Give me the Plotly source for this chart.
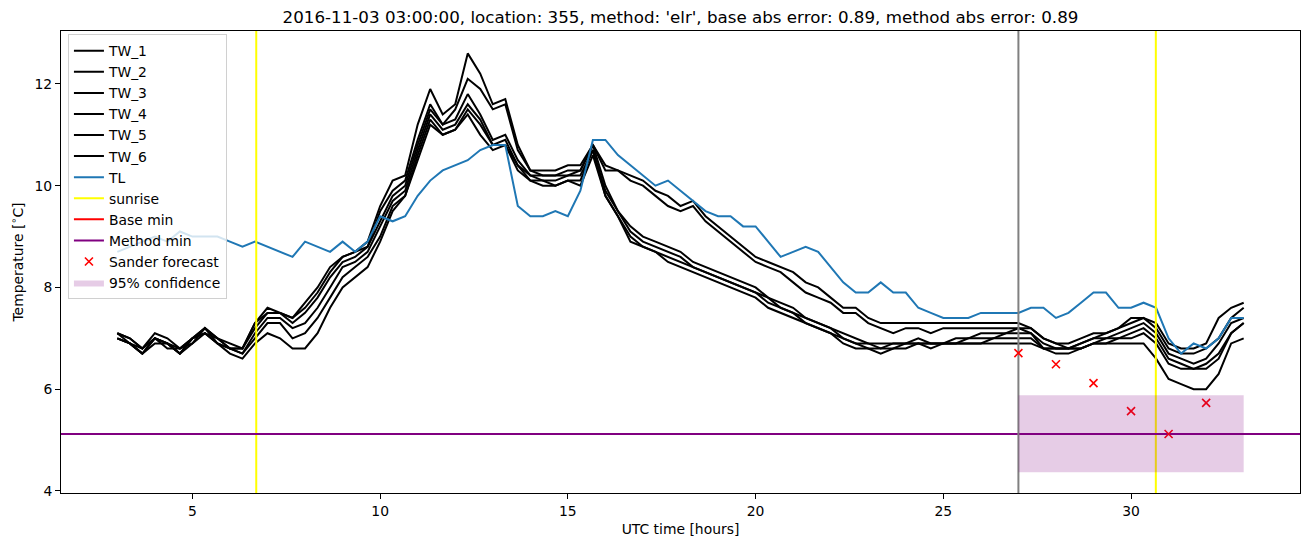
import numpy as np
import plotly.graph_objects as go

# ---- data (20-minute samples from 03:00 to 33:00 UTC hours) ----
hours = 3 + np.arange(91) / 3.0

tw_1 = [7.1, 7.0, 6.8, 7.0, 6.9, 6.8, 7.0, 7.2, 7.0, 6.8, 6.8, 7.3,
        7.6, 7.5, 7.4, 7.7, 8.0, 8.4, 8.6, 8.7, 8.9, 9.6, 10.1, 10.2,
        11.2, 11.9, 11.4, 11.6, 12.6, 12.2, 11.6, 11.7, 10.8, 10.3, 10.3, 10.3,
        10.4, 10.4, 10.8, 10.4, 10.3, 10.2, 10.1, 9.9, 9.8, 9.6, 9.7, 9.4,
        9.2, 9.0, 8.8, 8.6, 8.5, 8.4, 8.3, 8.1, 8.0, 7.8, 7.6, 7.6,
        7.4, 7.3, 7.3, 7.3, 7.3, 7.3, 7.3, 7.3, 7.3, 7.3, 7.3, 7.3,
        7.3, 7.2, 7.0, 6.9, 6.9, 7.0, 7.1, 7.1, 7.2, 7.4, 7.4, 7.3,
        6.9, 6.8, 6.8, 6.9, 7.4, 7.6, 7.7]
tw_2 = [7.1, 6.9, 6.8, 7.0, 6.8, 6.8, 7.0, 7.2, 7.0, 6.9, 6.8, 7.3,
        7.5, 7.5, 7.4, 7.6, 7.9, 8.3, 8.6, 8.7, 8.8, 9.5, 9.9, 10.1,
        10.9, 11.6, 11.2, 11.5, 12.1, 11.9, 11.5, 11.6, 10.7, 10.3, 10.2, 10.2,
        10.3, 10.3, 10.8, 10.3, 10.3, 10.1, 10.0, 9.8, 9.6, 9.5, 9.6, 9.3,
        9.1, 8.9, 8.7, 8.5, 8.4, 8.3, 8.1, 7.9, 7.8, 7.7, 7.5, 7.5,
        7.3, 7.2, 7.1, 7.2, 7.2, 7.1, 7.2, 7.2, 7.2, 7.2, 7.2, 7.2,
        7.2, 7.2, 7.0, 6.9, 6.8, 6.9, 7.0, 7.1, 7.2, 7.3, 7.4, 7.2,
        6.8, 6.7, 6.7, 6.8, 7.0, 7.4, 7.6]
tw_3 = [7.0, 6.9, 6.7, 7.0, 6.9, 6.7, 7.0, 7.1, 7.0, 6.8, 6.8, 7.2,
        7.5, 7.5, 7.3, 7.5, 7.8, 8.2, 8.5, 8.6, 8.8, 9.3, 9.8, 10.0,
        10.8, 11.5, 11.2, 11.3, 11.8, 11.4, 10.9, 11.0, 10.5, 10.2, 10.2, 10.2,
        10.2, 10.3, 10.8, 10.0, 9.5, 9.2, 9.0, 8.9, 8.8, 8.7, 8.5, 8.4,
        8.3, 8.2, 8.1, 8.0, 7.8, 7.7, 7.6, 7.4, 7.3, 7.2, 7.1, 7.0,
        6.9, 6.9, 6.9, 6.9, 7.0, 6.9, 6.9, 7.0, 7.0, 7.1, 7.1, 7.1,
        7.2, 7.1, 6.9, 6.8, 6.8, 6.9, 7.0, 7.0, 7.1, 7.2, 7.3, 7.1,
        6.7, 6.6, 6.5, 6.6, 6.9, 7.3, 7.4]
tw_4 = [7.1, 7.0, 6.8, 7.1, 7.0, 6.8, 6.9, 7.2, 6.9, 6.8, 6.7, 7.1,
        7.4, 7.4, 7.2, 7.3, 7.6, 8.0, 8.4, 8.5, 8.7, 9.2, 9.7, 9.9,
        10.7, 11.4, 11.1, 11.2, 11.6, 11.3, 10.8, 10.9, 10.4, 10.2, 10.1, 10.1,
        10.2, 10.2, 10.7, 9.9, 9.5, 9.1, 8.9, 8.8, 8.7, 8.6, 8.4, 8.3,
        8.2, 8.1, 8.0, 7.9, 7.8, 7.6, 7.5, 7.4, 7.3, 7.2, 7.0, 6.9,
        6.9, 6.8, 6.9, 6.9, 6.9, 6.9, 6.9, 6.9, 7.0, 7.0, 7.0, 7.1,
        7.1, 7.1, 6.8, 6.8, 6.8, 6.8, 6.9, 7.0, 7.0, 7.1, 7.2, 7.0,
        6.6, 6.5, 6.4, 6.5, 6.7, 7.1, 7.3]
tw_5 = [7.0, 6.9, 6.7, 7.0, 6.9, 6.7, 7.0, 7.1, 6.9, 6.8, 6.7, 7.0,
        7.3, 7.3, 7.0, 7.1, 7.4, 7.8, 8.2, 8.4, 8.6, 9.0, 9.6, 9.8,
        10.6, 11.3, 11.0, 11.1, 11.5, 11.2, 10.8, 10.8, 10.4, 10.1, 10.1, 10.0,
        10.1, 10.1, 10.7, 9.8, 9.4, 9.0, 8.8, 8.7, 8.6, 8.5, 8.4, 8.3,
        8.2, 8.1, 8.0, 7.9, 7.7, 7.6, 7.5, 7.3, 7.2, 7.1, 7.0, 6.9,
        6.8, 6.8, 6.8, 6.9, 6.9, 6.9, 6.9, 6.9, 6.9, 6.9, 7.0, 7.0,
        7.0, 7.0, 6.8, 6.7, 6.7, 6.8, 6.9, 6.9, 7.0, 7.0, 7.1, 6.9,
        6.5, 6.4, 6.4, 6.4, 6.6, 7.1, 7.3]
tw_6 = [7.0, 6.9, 6.7, 6.9, 6.9, 6.7, 6.9, 7.1, 6.9, 6.7, 6.6, 6.9,
        7.1, 7.0, 6.8, 6.8, 7.1, 7.6, 8.0, 8.2, 8.4, 8.9, 9.5, 9.8,
        10.5, 11.2, 11.0, 11.1, 11.4, 11.0, 10.7, 10.8, 10.3, 10.1, 10.0, 10.0,
        10.1, 10.0, 10.6, 9.8, 9.4, 8.9, 8.8, 8.7, 8.5, 8.4, 8.3, 8.2,
        8.1, 8.0, 7.9, 7.8, 7.6, 7.5, 7.4, 7.3, 7.2, 7.1, 6.9, 6.8,
        6.8, 6.7, 6.8, 6.8, 6.9, 6.8, 6.9, 6.9, 6.9, 6.9, 6.9, 6.9,
        6.9, 6.9, 6.8, 6.8, 6.8, 6.8, 6.9, 6.9, 6.9, 6.9, 6.9, 6.6,
        6.2, 6.1, 6.0, 6.0, 6.3, 6.9, 7.0]
tl = [8.7, 8.8, 8.9, 9.0, 8.9, 9.1, 9.0, 9.0, 9.0, 8.9, 8.8, 8.9,
      8.8, 8.7, 8.6, 8.9, 8.8, 8.7, 8.9, 8.7, 8.9, 9.4, 9.3, 9.4,
      9.8, 10.1, 10.3, 10.4, 10.5, 10.7, 10.8, 10.8, 9.6, 9.4, 9.4, 9.5,
      9.4, 9.9, 10.9, 10.9, 10.6, 10.4, 10.2, 10.0, 10.1, 9.9, 9.7, 9.5,
      9.4, 9.4, 9.2, 9.2, 8.9, 8.6, 8.7, 8.8, 8.7, 8.4, 8.1, 7.9,
      7.9, 8.1, 7.9, 7.9, 7.6, 7.5, 7.4, 7.4, 7.4, 7.5, 7.5, 7.5,
      7.5, 7.6, 7.6, 7.4, 7.5, 7.7, 7.9, 7.9, 7.6, 7.6, 7.7, 7.6,
      7.0, 6.7, 6.9, 6.8, 7.0, 7.4, 7.4]

tw_series = {"TW_1": tw_1, "TW_2": tw_2, "TW_3": tw_3,
             "TW_4": tw_4, "TW_5": tw_5, "TW_6": tw_6}

sunrise_hours = [6.70, 30.66]
forecast_hour = 27.0
base_min = 5.12
method_min = 5.12
sander_hours = [27, 28, 29, 30, 31, 32]
sander_values = [6.71, 6.49, 6.12, 5.57, 5.12, 5.73]
conf_hours = [27.0, 33.0]
conf_low = 4.37
conf_high = 5.88

x_range = [1.5, 34.5]
y_range = [3.96, 13.04]

title = ("2016-11-03 03:00:00, location: 355, method: 'elr', "
         "base abs error: 0.89, method abs error: 0.89")

# ---- figure ----
fig = go.Figure()
for name, vals in tw_series.items():
    fig.add_trace(go.Scatter(x=hours, y=vals, mode="lines", name=name,
                             line=dict(color="black", width=2)))
fig.add_trace(go.Scatter(x=hours, y=tl, mode="lines", name="TL",
                         line=dict(color="#1f77b4", width=2)))

for i, h in enumerate(sunrise_hours):
    fig.add_trace(go.Scatter(x=[h, h], y=y_range, mode="lines", name="sunrise",
                             line=dict(color="yellow", width=2),
                             showlegend=(i == 0), legendgroup="sunrise"))

fig.add_trace(go.Scatter(x=x_range, y=[base_min, base_min], mode="lines",
                         name="Base min", line=dict(color="red", width=2)))
fig.add_trace(go.Scatter(x=x_range, y=[method_min, method_min], mode="lines",
                         name="Method min", line=dict(color="purple", width=2)))
fig.add_trace(go.Scatter(x=[forecast_hour, forecast_hour], y=y_range, mode="lines",
                         showlegend=False, line=dict(color="gray", width=2)))
fig.add_trace(go.Scatter(x=sander_hours, y=sander_values, mode="markers",
                         name="Sander forecast",
                         marker=dict(symbol="x-thin", size=8, color="red",
                                     line=dict(color="red", width=1.6))))
fig.add_trace(go.Scatter(
    x=[conf_hours[0], conf_hours[1], conf_hours[1], conf_hours[0], conf_hours[0]],
    y=[conf_low, conf_low, conf_high, conf_high, conf_low],
    mode="lines", fill="toself", fillcolor="rgba(128,0,128,0.2)",
    line=dict(width=0, color="rgba(128,0,128,0)"), name="95% confidence"))

axis_common = dict(showline=True, mirror=True, linecolor="black", linewidth=1,
                   ticks="outside", ticklen=5, tickwidth=1, tickcolor="black",
                   showgrid=False, zeroline=False,
                   tickfont=dict(size=13.9, color="black"))

fig.update_layout(
    width=1310, height=547,
    margin=dict(l=61, r=10, t=31, b=54),
    paper_bgcolor="white", plot_bgcolor="white",
    font=dict(family="DejaVu Sans", size=13.9, color="black"),
    title=dict(text=title, x=0.5, xref="paper", xanchor="center",
               y=1 - 17 / 547, yref="container", yanchor="middle",
               font=dict(size=16.7, color="black")),
    xaxis=dict(range=x_range, tickvals=[5, 10, 15, 20, 25, 30],
               title=dict(text="UTC time [hours]", standoff=6,
                          font=dict(size=13.9)), **axis_common),
    yaxis=dict(range=y_range, tickvals=[4, 6, 8, 10, 12],
               title=dict(text="Temperature [<sup>∘</sup>C]", standoff=7,
                          font=dict(size=13.9)), **axis_common),
    legend=dict(x=0.0056, y=0.993, xanchor="left", yanchor="top",
                bgcolor="rgba(255,255,255,0.8)", bordercolor="#d0d0d0",
                borderwidth=1, font=dict(size=13.9, color="black"),
                tracegroupgap=0),
    showlegend=True,
)

fig.write_html("out.html")
